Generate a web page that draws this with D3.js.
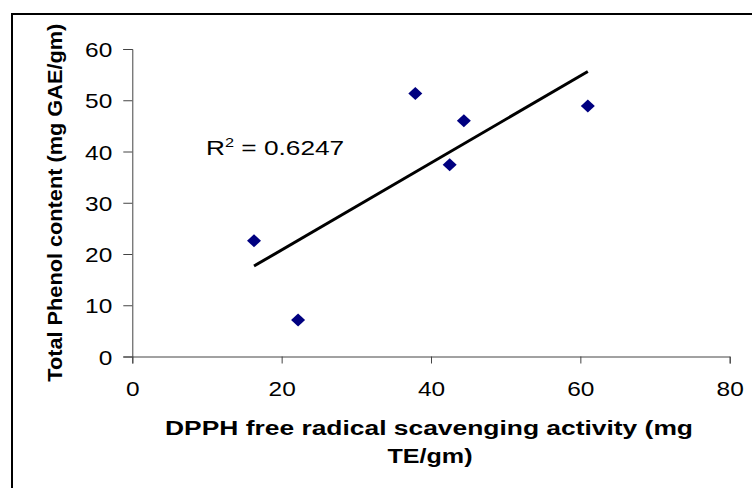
<!DOCTYPE html>
<html>
<head>
<meta charset="utf-8">
<script src="https://cdn.jsdelivr.net/npm/d3@7"></script>
<style>
  body { margin: 0; background: #fff; }
  svg { display: block; font-family: "Liberation Sans", Arial, sans-serif; }
</style>
</head>
<body>
<div id="chart"></div>
<script>
// data
const dpph = [16.3, 22.2, 37.9, 42.5, 44.4, 61.0];
const phenol = [22.6, 7.1, 51.3, 37.4, 46.0, 48.9];
const xTicks = [0, 20, 40, 60, 80];
const yTicks = [0, 10, 20, 30, 40, 50, 60];
const r2Label = "0.6247";

const svgwidth = 752;
const svgheight = 488;

const svg = d3.select('#chart').append('svg')
    .attr('width', svgwidth).attr('height', svgheight);

// outer frame (runs off the right/bottom edge like the original)
svg.append('rect')
    .attr('x', 12).attr('y', 14)
    .attr('width', 760).attr('height', 500)
    .attr('fill', 'none').attr('stroke', '#000').attr('stroke-width', 2);

const x = d3.scaleLinear().domain([0, 80]).range([132.3, 729.7]);
const y = d3.scaleLinear().domain([0, 60]).range([356.5, 49]);

// axes
const xAxis = d3.axisBottom(x).tickValues(xTicks).tickSize(7).tickPadding(18);
const yAxis = d3.axisLeft(y).tickValues(yTicks).tickSize(9).tickPadding(11);

const gx = svg.append('g').attr('transform', `translate(0,${y(0)})`).call(xAxis);
const gy = svg.append('g').attr('transform', `translate(${x(0)},0)`).call(yAxis);

// the original's text is a bit wider than the font, stretch it
[gx, gy].forEach(g => {
    g.select('.domain').attr('stroke', '#444').attr('stroke-width', 1);
    g.selectAll('.tick line').attr('stroke', '#444');
    g.selectAll('.tick text')
        .attr('fill', '#000')
        .style('font-family', '"Liberation Sans", Arial, sans-serif')
        .style('font-size', '21px')
        .attr('textLength', d => String(d).length * 13.6)
        .attr('lengthAdjust', 'spacingAndGlyphs');
});
gy.selectAll('.tick text').attr('dy', '0.36em');

// least squares trendline from the points
const n = dpph.length;
const mx = d3.mean(dpph), my = d3.mean(phenol);
let sxy = 0, sxx = 0;
for (let i = 0; i < n; i++) {
    sxy += (dpph[i] - mx) * (phenol[i] - my);
    sxx += (dpph[i] - mx) * (dpph[i] - mx);
}
const slope = sxy / sxx;
const icpt = my - slope * mx;
const [x0, x1] = d3.extent(dpph);

svg.append('line')
    .attr('x1', x(x0)).attr('y1', y(icpt + slope * x0))
    .attr('x2', x(x1)).attr('y2', y(icpt + slope * x1))
    .attr('stroke', '#000').attr('stroke-width', 3);

// diamond markers
const pts = dpph.map((d, i) => ({x: d, y: phenol[i]}));
svg.selectAll('path.pt')
    .data(pts).enter()
    .append('path')
    .attr('class', 'pt')
    .attr('d', d => {
        const cx = x(d.x), cy = y(d.y);
        return `M${cx},${cy - 6.5}L${cx + 7},${cy}L${cx},${cy + 6.5}L${cx - 7},${cy}Z`;
    })
    .attr('fill', '#000080');

// R squared label
const r2 = svg.append('text')
    .attr('transform', 'translate(206,155) scale(1.25,1)')
    .style('font-size', '21px')
    .attr('fill', '#000');
r2.append('tspan').text('R');
r2.append('tspan').attr('dy', -8).style('font-size', '13px').text('2');
r2.append('tspan').attr('dy', 8).text(' = ' + r2Label);

// axis titles
svg.append('text')
    .attr('x', 429).attr('y', 435)
    .attr('text-anchor', 'middle')
    .style('font-size', '20px').style('font-weight', 'bold')
    .attr('textLength', 528).attr('lengthAdjust', 'spacingAndGlyphs')
    .text('DPPH free radical scavenging activity (mg');
svg.append('text')
    .attr('x', 430).attr('y', 463)
    .attr('text-anchor', 'middle')
    .style('font-size', '20px').style('font-weight', 'bold')
    .attr('textLength', 85).attr('lengthAdjust', 'spacingAndGlyphs')
    .text('TE/gm)');

svg.append('text')
    .attr('transform', `translate(62,${(y(0) + y(60)) / 2}) rotate(-90)`)
    .attr('text-anchor', 'middle')
    .style('font-size', '20px').style('font-weight', 'bold')
    .attr('textLength', 358).attr('lengthAdjust', 'spacingAndGlyphs')
    .text('Total Phenol content (mg GAE/gm)');
</script>
</body>
</html>
